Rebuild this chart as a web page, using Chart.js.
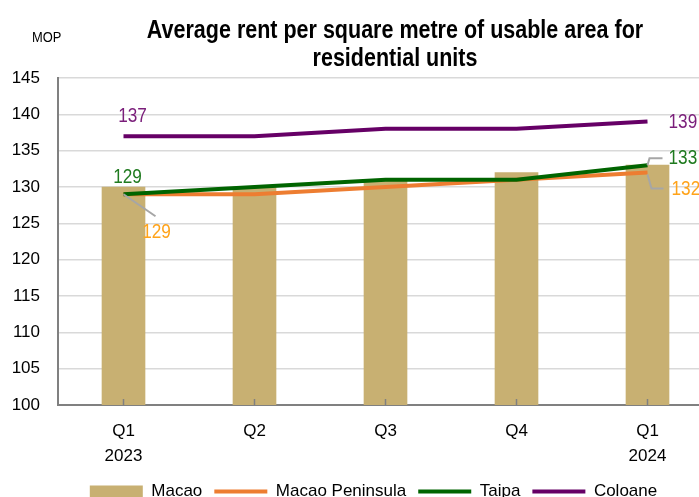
<!DOCTYPE html>
<html>
<head>
<meta charset="utf-8">
<script src="https://cdn.jsdelivr.net/npm/chart.js@4.4.1/dist/chart.umd.min.js"></script>
<style>
    html, body { margin: 0; padding: 0; background: #fff; overflow: hidden; }
    #wrap { width: 790px; height: 510px; }
</style>
</head>
<body>
<div id="wrap"><canvas id="rent-chart" width="790" height="510"></canvas></div>
<script>
// data
const quarters = [["Q1", "2023"], "Q2", "Q3", "Q4", ["Q1", "2024"]];
const macao = [130, 130, 131, 132, 133];
const macaoPeninsula = [129, 129, 130, 131, 132];
const taipa = [129, 130, 131, 131, 133];
const coloane = [137, 137, 138, 138, 139];
const yTicks = [100, 105, 110, 115, 120, 125, 130, 135, 140, 145];
const titleLines = ["Average rent per square metre of usable area for", "residential units"];

const FONT = '"Liberation Sans Narrow", "Liberation Sans", sans-serif';
const TAN = "#c8b072";
const ORANGE = "#ed7d31";
const GREEN = "#006400";
const PURPLE = "#660066";
const NARROW = 0.86; // horizontal squeeze to mimic a condensed face

document.addEventListener("DOMContentLoaded", function () {
    const canvas = document.getElementById("rent-chart");

    // draw text squeezed horizontally around its anchor x
    function narrowText(ctx, text, x, y, align) {
        ctx.save();
        ctx.translate(x, y);
        ctx.scale(NARROW, 1);
        ctx.textAlign = align;
        ctx.fillText(text, 0, 0);
        ctx.restore();
    }

    // nudge the legend a bit to the right, like the original
    const legendShift = {
        id: "legendShift",
        afterLayout(chart) {
            if (!chart.legend) return;
            chart.legend.left += 17;
            chart.legend.right += 17;
        }
    };

    // title, value labels, leader lines, unit label and inner tick marks
    const labelPlugin = {
        id: "labelPlugin",
        afterDatasetsDraw(chart) {
            const { ctx, chartArea } = chart;
            const xs = chart.scales.x;
            ctx.save();

            // title
            ctx.fillStyle = "#000";
            ctx.font = "bold 25px " + FONT;
            ctx.textBaseline = "middle";
            narrowText(ctx, titleLines[0], 395, 31, "center");
            narrowText(ctx, titleLines[1], 395, 59, "center");

            // unit label
            ctx.font = "15px " + FONT;
            narrowText(ctx, "MOP", 32, 38, "left");

            // small tick marks pointing up from the x axis
            ctx.strokeStyle = "#808080";
            ctx.lineWidth = 1.5;
            quarters.forEach((q, i) => {
                const x = xs.getPixelForValue(i);
                ctx.beginPath();
                ctx.moveTo(x, chartArea.bottom);
                ctx.lineTo(x, chartArea.bottom - 6);
                ctx.stroke();
            });

            ctx.font = "20px " + FONT;

            // bar labels (first and last)
            const bars = chart.getDatasetMeta(0).data;
            ctx.fillStyle = "#000";
            [0, macao.length - 1].forEach(i => {
                const b = bars[i];
                narrowText(ctx, String(macao[i]), b.x, (b.y + b.base) / 2, "center");
            });

            const pen = chart.getDatasetMeta(1).data;
            const tai = chart.getDatasetMeta(2).data;
            const col = chart.getDatasetMeta(3).data;
            const last = quarters.length - 1;

            // Coloane
            ctx.fillStyle = "#7a1e7a";
            narrowText(ctx, String(coloane[0]), col[0].x + 9, col[0].y - 20, "center");
            narrowText(ctx, String(coloane[last]), col[last].x + 21, col[last].y + 1, "left");

            // Taipa
            ctx.fillStyle = "#1f7a1f";
            narrowText(ctx, String(taipa[0]), tai[0].x + 4, tai[0].y - 17, "center");
            narrowText(ctx, String(taipa[last]), tai[last].x + 21, tai[last].y - 7, "left");

            // Macao Peninsula
            ctx.fillStyle = "#ffa31a";
            narrowText(ctx, String(macaoPeninsula[0]), pen[0].x + 33, pen[0].y + 38, "center");
            narrowText(ctx, String(macaoPeninsula[last]), pen[last].x + 24, pen[last].y + 17, "left");

            // leader lines
            ctx.strokeStyle = "#a6a6a6";
            ctx.lineWidth = 2;
            ctx.beginPath();
            ctx.moveTo(pen[0].x, pen[0].y);
            ctx.lineTo(pen[0].x + 32, pen[0].y + 22);
            ctx.stroke();

            ctx.beginPath();
            ctx.moveTo(tai[last].x, tai[last].y);
            ctx.lineTo(tai[last].x + 2, tai[last].y - 7);
            ctx.lineTo(tai[last].x + 15, tai[last].y - 7);
            ctx.stroke();

            ctx.beginPath();
            ctx.moveTo(pen[last].x, pen[last].y + 2);
            ctx.lineTo(pen[last].x + 4, pen[last].y + 16);
            ctx.lineTo(pen[last].x + 16, pen[last].y + 16);
            ctx.stroke();

            ctx.restore();
        }
    };

    new Chart(canvas, {
        type: "bar",
        data: {
            labels: quarters,
            datasets: [
                {
                    type: "bar",
                    label: "Macao",
                    data: macao,
                    backgroundColor: TAN,
                    barThickness: 43,
                    order: 4
                },
                {
                    type: "line",
                    label: "Macao Peninsula",
                    data: macaoPeninsula,
                    borderColor: ORANGE,
                    backgroundColor: ORANGE,
                    borderWidth: 4,
                    pointRadius: 0,
                    tension: 0,
                    order: 3
                },
                {
                    type: "line",
                    label: "Taipa",
                    data: taipa,
                    borderColor: GREEN,
                    backgroundColor: GREEN,
                    borderWidth: 4,
                    pointRadius: 0,
                    tension: 0,
                    order: 2
                },
                {
                    type: "line",
                    label: "Coloane",
                    data: coloane,
                    borderColor: PURPLE,
                    backgroundColor: PURPLE,
                    borderWidth: 4,
                    pointRadius: 0,
                    tension: 0,
                    order: 1
                }
            ]
        },
        options: {
            responsive: false,
            animation: false,
            layout: {
                padding: { left: 0, right: 77, top: 78, bottom: 0 }
            },
            plugins: {
                title: { display: false },
                legend: {
                    position: "bottom",
                    labels: {
                        color: "#000",
                        font: { family: FONT, size: 17 },
                        usePointStyle: true,
                        pointStyleWidth: 53,
                        boxHeight: 12,
                        padding: 12,
                        sort: (a, b) => a.datasetIndex - b.datasetIndex,
                        generateLabels: function (chart) {
                            const items = Chart.defaults.plugins.legend.labels.generateLabels(chart);
                            items.forEach(it => {
                                if (it.datasetIndex === 0) {
                                    it.pointStyle = "rect";
                                    it.lineWidth = 0;
                                    it.fillStyle = TAN;
                                    it.strokeStyle = TAN;
                                } else {
                                    it.pointStyle = "line";
                                    it.lineWidth = 4;
                                }
                            });
                            return items;
                        }
                    }
                },
                tooltip: { enabled: false }
            },
            scales: {
                x: {
                    grid: { display: false },
                    border: { color: "#808080", width: 2 },
                    ticks: {
                        color: "#000",
                        font: { family: FONT, size: 17, lineHeight: 1.45 },
                        padding: 6,
                        maxRotation: 0
                    },
                    afterFit: function (scale) { scale.height = 66; }
                },
                y: {
                    min: 100,
                    max: 145,
                    afterBuildTicks: function (scale) {
                        scale.ticks = yTicks.map(v => ({ value: v }));
                    },
                    grid: { color: "#d9d9d9", lineWidth: 1.5, drawTicks: false },
                    border: { color: "#808080", width: 2 },
                    ticks: {
                        color: "#000",
                        font: { family: FONT, size: 17 },
                        padding: 18
                    },
                    afterFit: function (scale) { scale.width = 58; }
                }
            }
        },
        plugins: [labelPlugin, legendShift]
    });
});
</script>
</body>
</html>
